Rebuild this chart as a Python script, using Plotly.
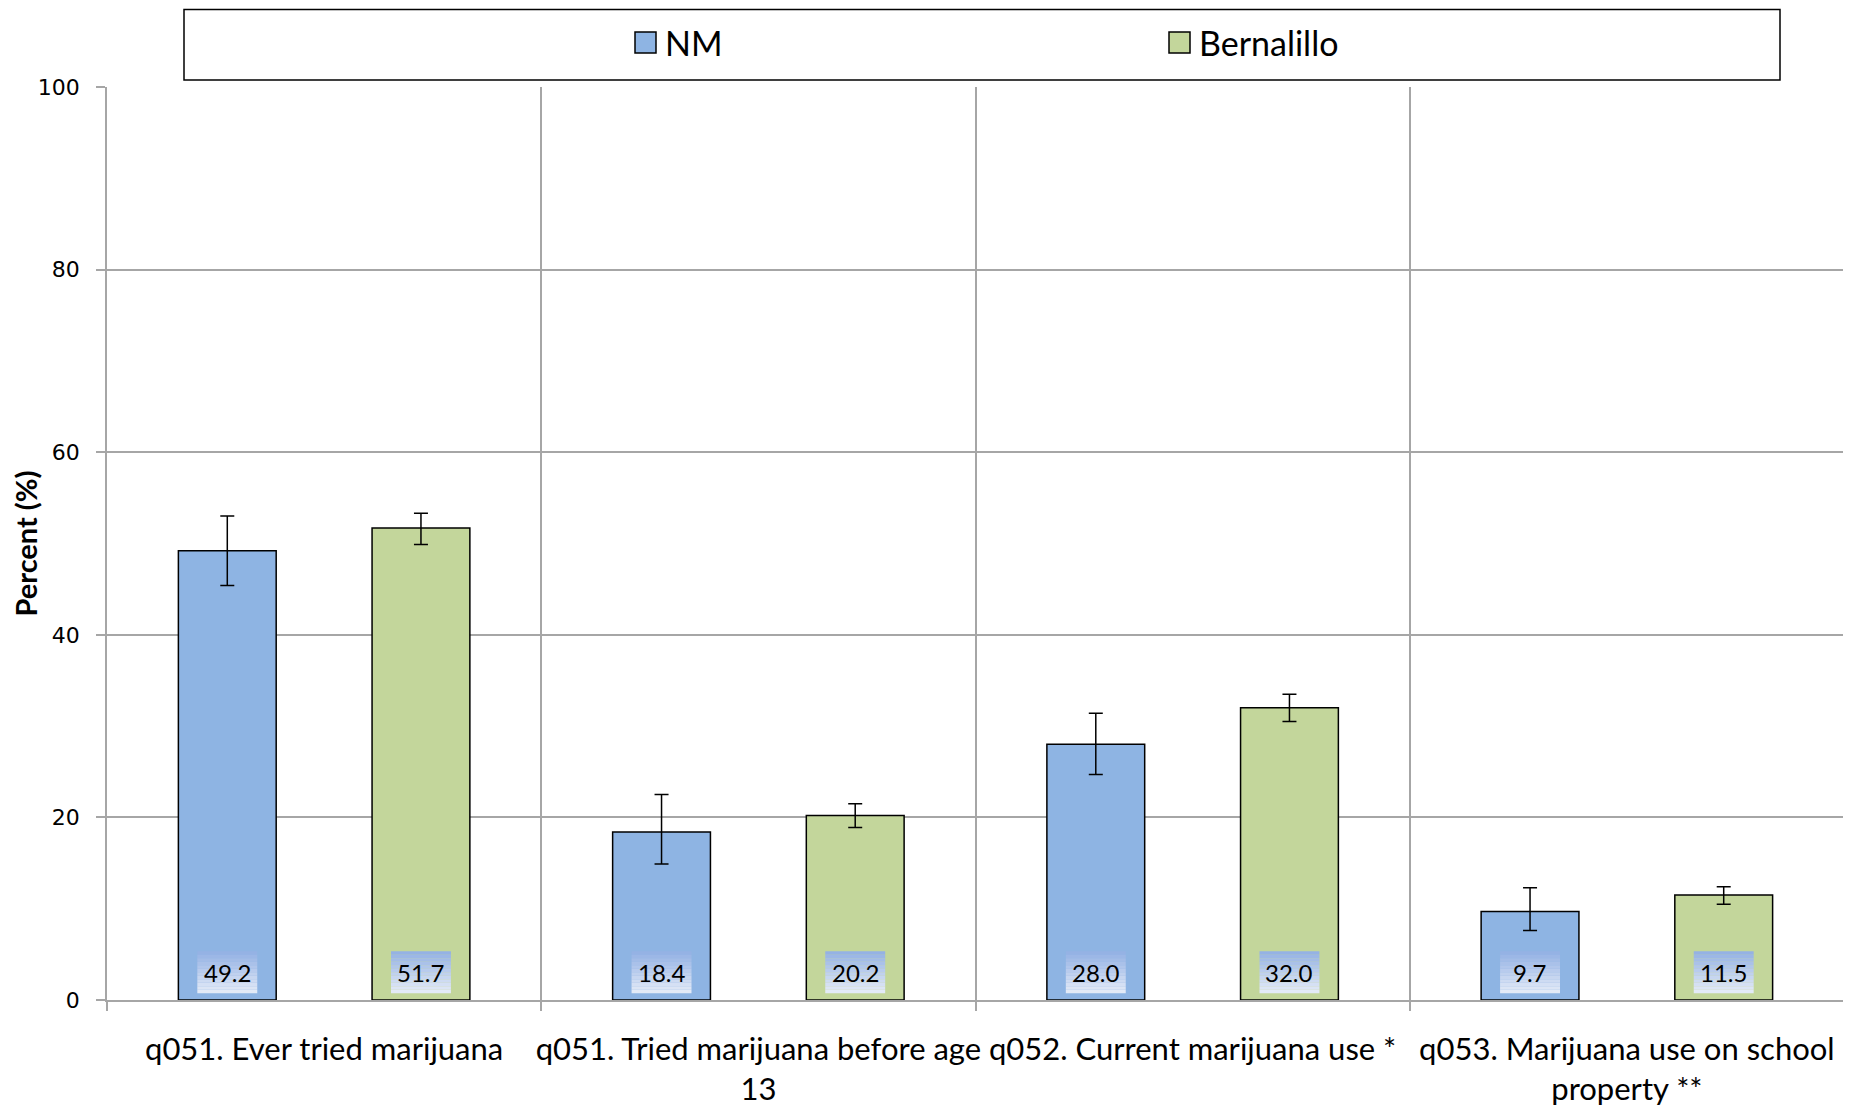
import plotly.graph_objects as go

# --- data ---
categories = [
    "q051. Ever tried marijuana",
    "q051. Tried marijuana before age<br>13",
    "q052. Current marijuana use *",
    "q053. Marijuana use on school<br>property **",
]
nm_values = [49.2, 18.4, 28.0, 9.7]
nm_lower = [45.4, 14.9, 24.7, 7.6]
nm_upper = [53.0, 22.5, 31.4, 12.3]
bern_values = [51.7, 20.2, 32.0, 11.5]
bern_lower = [49.9, 18.9, 30.5, 10.5]
bern_upper = [53.3, 21.5, 33.5, 12.4]
y_ticks = [0, 20, 40, 60, 80, 100]

NM_COLOR = '#8EB4E3'
BERN_COLOR = '#C3D69B'
GRID = '#A6A6A6'
FONT = 'Lato, Open Sans, sans-serif'
BARGAP = 0.108
BARGROUPGAP = 0.495

# plot area in page pixels (used to place the legend frame)
PX0, PX1, PY0, PY1 = 107, 1844, 87, 1000

def px(xp):
    return (xp - PX0) / (PX1 - PX0)

def py(yp):
    return (PY1 - yp) / (PY1 - PY0)

x = list(range(len(categories)))

def err(vals, lo, hi):
    return dict(type='data', symmetric=False,
                array=[h - v for v, h in zip(vals, hi)],
                arrayminus=[v - l for v, l in zip(vals, lo)],
                color='black', thickness=1.5, width=7)

fig = go.Figure()
fig.add_trace(go.Bar(x=x, y=nm_values, name='NM', marker=dict(color=NM_COLOR, line=dict(color='black', width=1.5)),
                     error_y=err(nm_values, nm_lower, nm_upper)))
fig.add_trace(go.Bar(x=x, y=bern_values, name='Bernalillo', marker=dict(color=BERN_COLOR, line=dict(color='black', width=1.5)),
                     error_y=err(bern_values, bern_lower, bern_upper)))

# value labels at the foot of each bar, on a small blue gradient box
def mix(c1, c2, t):
    a = [int(c1[i:i + 2], 16) for i in (1, 3, 5)]
    b = [int(c2[i:i + 2], 16) for i in (1, 3, 5)]
    return '#%02x%02x%02x' % tuple(round(p + (q - p) * t) for p, q in zip(a, b))

offset = (1 - BARGAP) / 4
box_half = 0.069
box_lo, box_hi = 0.75, 5.35
strips = 12
for i in x:
    for dx, v in ((-offset, nm_values[i]), (offset, bern_values[i])):
        xc = i + dx
        for k in range(strips):
            y0 = box_hi - (box_hi - box_lo) * (k + 1) / strips
            y1 = box_hi - (box_hi - box_lo) * k / strips
            fig.add_shape(type='rect', xref='x', yref='y', x0=xc - box_half, x1=xc + box_half, y0=y0, y1=y1,
                          fillcolor=mix('#95B2E4', '#E3EAF7', k / (strips - 1)), line=dict(width=0), layer='above')
        fig.add_annotation(x=xc, y=3.05, xref='x', yref='y', text=f"{v:.1f}", showarrow=False,
                           font=dict(family=FONT, size=24, color='black'), yanchor='middle')

# legend drawn by hand: frame, swatches, labels
fig.add_shape(type='rect', xref='paper', yref='paper', x0=px(184), x1=px(1780), y0=py(80), y1=py(9.5),
              line=dict(color='black', width=1.5), fillcolor='white', layer='below')
for name, color, sx in (('NM', NM_COLOR, 635), ('Bernalillo', BERN_COLOR, 1169)):
    fig.add_shape(type='rect', xref='paper', yref='paper', x0=px(sx), x1=px(sx + 21), y0=py(53), y1=py(32),
                  fillcolor=color, line=dict(color='black', width=1.5))
    fig.add_annotation(xref='paper', yref='paper', x=px(sx + 28), y=py(42), text=name, showarrow=False,
                       xanchor='left', yanchor='middle', font=dict(family=FONT, size=34, color='black'))

fig.update_layout(
    width=1851, height=1107,
    margin=dict(l=PX0 - 8, r=1851 - PX1 + 8, t=PY0 - 8, b=1107 - PY1 + 8),
    paper_bgcolor='white', plot_bgcolor='white',
    barmode='group', bargap=BARGAP, bargroupgap=BARGROUPGAP,
    showlegend=False,
    xaxis=dict(range=[-0.5, 3.5], tickvals=x, ticktext=categories, showgrid=False, zeroline=False,
               showline=True, linecolor=GRID, linewidth=1.5, ticks='', ticklabelstandoff=21, automargin=False,
               tickfont=dict(family=FONT, size=31, color='black'),
               minor=dict(tickvals=[-0.5, 0.5, 1.5, 2.5, 3.5], showgrid=True, gridcolor=GRID, gridwidth=1.5,
                          ticks='outside', ticklen=9, tickcolor=GRID, tickwidth=1.5)),
    yaxis=dict(range=[0, 100], tickvals=y_ticks, showgrid=True, gridcolor=GRID, gridwidth=1.5, zeroline=False,
               showline=True, linecolor=GRID, linewidth=1.5, ticks='outside', ticklen=9, tickcolor=GRID, tickwidth=1.5,
               ticklabelstandoff=12, automargin=False,
               tickfont=dict(family='DejaVu Sans', size=22, color='black'),
               title=dict(text='<b>Percent (%)</b>', standoff=2,
                          font=dict(family=FONT, size=29, color='black'))),
)

fig.write_html("out.html")
